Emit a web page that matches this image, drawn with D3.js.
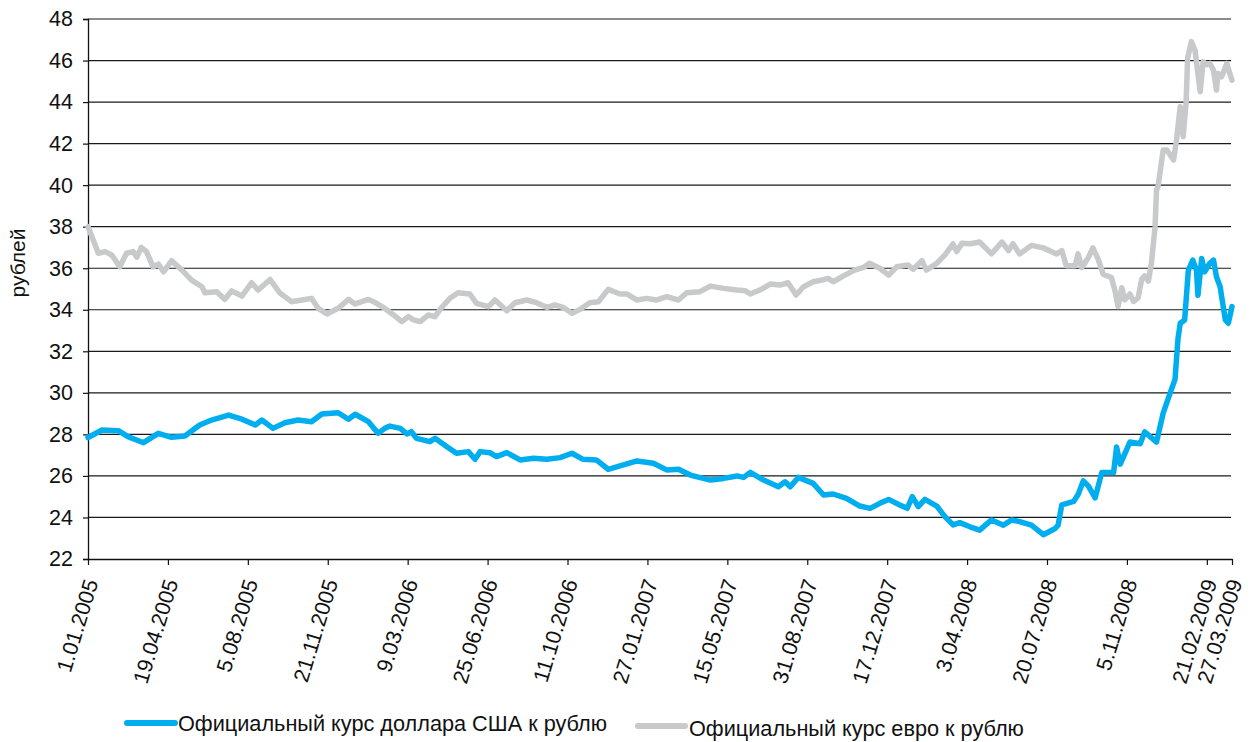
<!DOCTYPE html>
<html>
<head>
<meta charset="utf-8">
<script src="https://cdn.jsdelivr.net/npm/d3@7"></script>
<style>
  html, body { margin: 0; padding: 0; background: #fff; }
  svg { display: block; font-family: "Liberation Sans", Arial, Helvetica, sans-serif; }
</style>
</head>
<body>
<svg id="chart" width="1257" height="742"></svg>
<script>
// ---------- DATA ----------
const xTickLabels = ["1.01.2005","19.04.2005","5.08.2005","21.11.2005","9.03.2006","25.06.2006","11.10.2006","27.01.2007","15.05.2007","31.08.2007","17.12.2007","3.04.2008","20.07.2008","5.11.2008","21.02.2009","27.03.2009"];
const yTicks = [22,24,26,28,30,32,34,36,38,40,42,44,46,48];
const yTitle = "рублей";
const seriesNames = ["Официальный курс доллара США к рублю", "Официальный курс евро к рублю"];

const usdDates = ["2005-01-01","2005-01-20","2005-02-11","2005-02-24","2005-03-17","2005-04-06","2005-04-24","2005-05-12","2005-06-01","2005-06-17","2005-07-10","2005-07-28","2005-08-15","2005-08-24","2005-09-08","2005-09-24","2005-10-12","2005-10-30","2005-11-13","2005-12-05","2005-12-19","2005-12-28","2006-01-15","2006-01-28","2006-02-06","2006-02-13","2006-02-27","2006-03-08","2006-03-14","2006-03-21","2006-04-08","2006-04-15","2006-05-01","2006-05-14","2006-05-30","2006-06-08","2006-06-15","2006-06-28","2006-07-07","2006-07-21","2006-08-08","2006-08-26","2006-09-13","2006-10-01","2006-10-17","2006-11-01","2006-11-19","2006-12-05","2006-12-21","2007-01-13","2007-02-04","2007-02-22","2007-03-10","2007-03-26","2007-04-22","2007-05-10","2007-05-28","2007-06-06","2007-06-15","2007-07-03","2007-07-23","2007-08-01","2007-08-08","2007-08-19","2007-09-08","2007-09-22","2007-10-05","2007-10-23","2007-11-10","2007-11-24","2007-12-07","2007-12-19","2008-01-03","2008-01-13","2008-01-20","2008-01-28","2008-02-06","2008-02-22","2008-03-04","2008-03-15","2008-03-24","2008-04-07","2008-04-20","2008-05-06","2008-05-22","2008-06-02","2008-06-13","2008-06-29","2008-07-15","2008-07-31","2008-08-04","2008-08-09","2008-08-25","2008-08-31","2008-09-07","2008-09-14","2008-09-23","2008-10-02","2008-10-18","2008-10-22","2008-10-27","2008-11-09","2008-11-23","2008-11-29","2008-12-15","2008-12-24","2009-01-04","2009-01-09","2009-01-13","2009-01-16","2009-01-22","2009-01-27","2009-02-02","2009-02-07","2009-02-09","2009-02-14","2009-02-18","2009-02-25","2009-03-02","2009-03-06","2009-03-11","2009-03-13","2009-03-18","2009-03-22","2009-03-27"];
const usdValues = [27.85,28.21,28.18,27.89,27.60,28.05,27.86,27.92,28.45,28.69,28.93,28.73,28.45,28.69,28.29,28.56,28.69,28.61,28.98,29.04,28.73,28.97,28.61,28.05,28.29,28.40,28.29,28.02,28.13,27.81,27.65,27.81,27.41,27.09,27.17,26.80,27.17,27.12,26.93,27.12,26.77,26.85,26.80,26.88,27.09,26.80,26.77,26.32,26.48,26.72,26.61,26.29,26.32,26.04,25.80,25.88,26.00,25.93,26.17,25.80,25.48,25.72,25.48,25.93,25.64,25.08,25.13,24.92,24.55,24.44,24.68,24.87,24.60,24.44,25.00,24.52,24.87,24.55,24.04,23.64,23.75,23.55,23.39,23.88,23.63,23.88,23.80,23.63,23.17,23.47,23.63,24.61,24.77,25.10,25.76,25.51,24.94,26.16,26.16,27.39,26.57,27.63,27.55,28.12,27.63,29.02,30.16,30.65,32.60,33.35,33.51,35.90,36.39,35.90,34.70,36.47,35.83,36.24,36.39,35.59,35.11,34.63,33.51,33.35,34.15];

const eurDates = ["2005-01-01","2005-01-15","2005-01-24","2005-02-02","2005-02-13","2005-02-22","2005-03-03","2005-03-08","2005-03-14","2005-03-21","2005-03-30","2005-04-06","2005-04-13","2005-04-24","2005-05-08","2005-05-21","2005-06-04","2005-06-08","2005-06-24","2005-07-05","2005-07-14","2005-07-28","2005-08-10","2005-08-19","2005-09-04","2005-09-17","2005-10-03","2005-10-17","2005-10-30","2005-11-08","2005-11-20","2005-12-05","2005-12-19","2005-12-28","2006-01-15","2006-01-26","2006-02-04","2006-02-18","2006-03-01","2006-03-10","2006-03-17","2006-03-26","2006-04-06","2006-04-15","2006-04-24","2006-05-05","2006-05-16","2006-06-01","2006-06-10","2006-06-26","2006-07-05","2006-07-21","2006-08-01","2006-08-17","2006-08-30","2006-09-13","2006-09-24","2006-10-05","2006-10-17","2006-10-28","2006-11-10","2006-11-22","2006-12-05","2006-12-21","2006-12-30","2007-01-13","2007-01-26","2007-02-08","2007-02-22","2007-03-10","2007-03-21","2007-04-08","2007-04-22","2007-05-10","2007-05-28","2007-06-08","2007-06-15","2007-06-28","2007-07-12","2007-07-25","2007-08-05","2007-08-16","2007-08-26","2007-09-08","2007-09-20","2007-09-28","2007-10-05","2007-10-19","2007-11-03","2007-11-15","2007-11-23","2007-12-07","2007-12-19","2007-12-30","2008-01-14","2008-01-21","2008-02-02","2008-02-08","2008-02-22","2008-03-04","2008-03-15","2008-03-20","2008-03-27","2008-04-07","2008-04-20","2008-05-06","2008-05-20","2008-05-29","2008-06-04","2008-06-13","2008-06-29","2008-07-15","2008-08-02","2008-08-09","2008-08-15","2008-08-27","2008-08-31","2008-09-05","2008-09-14","2008-09-20","2008-09-27","2008-10-04","2008-10-15","2008-10-20","2008-10-24","2008-10-29","2008-11-02","2008-11-09","2008-11-14","2008-11-20","2008-11-25","2008-11-29","2008-12-04","2008-12-08","2008-12-13","2008-12-15","2008-12-17","2008-12-24","2008-12-29","2009-01-07","2009-01-11","2009-01-16","2009-01-20","2009-01-24","2009-01-26","2009-01-31","2009-02-05","2009-02-12","2009-02-16","2009-02-21","2009-02-25","2009-03-02","2009-03-06","2009-03-08","2009-03-13","2009-03-20","2009-03-24","2009-03-27"];
const eurValues = [38.00,36.72,36.80,36.64,36.07,36.72,36.80,36.53,37.01,36.80,36.07,36.20,35.83,36.36,35.91,35.43,35.11,34.82,34.87,34.50,34.91,34.66,35.30,34.95,35.46,34.82,34.39,34.47,34.55,34.07,33.80,34.07,34.50,34.28,34.50,34.31,34.12,33.75,33.43,33.67,33.51,33.43,33.75,33.67,34.12,34.55,34.82,34.76,34.31,34.15,34.47,33.95,34.34,34.47,34.34,34.12,34.23,34.12,33.83,34.02,34.34,34.39,34.98,34.76,34.76,34.47,34.55,34.47,34.63,34.47,34.82,34.87,35.14,35.03,34.95,34.92,34.76,34.95,35.24,35.19,35.30,34.71,35.11,35.35,35.43,35.51,35.35,35.63,35.91,36.04,36.24,36.00,35.67,36.07,36.16,35.95,36.36,35.91,36.24,36.64,37.17,36.80,37.20,37.18,37.26,36.69,37.26,36.85,37.18,36.69,37.10,36.98,36.69,36.85,36.12,36.12,36.69,36.03,36.52,36.98,36.44,35.71,35.55,34.89,34.16,35.06,34.48,34.76,34.40,34.57,35.47,35.63,35.38,36.20,38.00,39.77,39.93,41.69,41.69,41.21,42.17,43.78,42.33,44.00,46.10,46.91,46.50,44.50,45.94,45.80,45.86,45.54,44.58,45.38,45.22,45.86,45.38,45.06];

const seriesColors = ["#00aeef", "#c8c9cb"];

// ---------- CHART ----------
const svg = d3.select("#chart");
const parseISO = d3.timeParse("%Y-%m-%d");
const parseTick = d3.timeParse("%d.%m.%Y");

const plotLeft = 88, plotRight = 1232, plotTop = 19, plotBottom = 559;

const x = d3.scaleTime()
  .domain([parseTick("1.01.2005"), parseTick("27.03.2009")])
  .range([plotLeft, plotRight]);
const y = d3.scaleLinear().domain([22, 48]).range([plotBottom, plotTop]);

svg.append("rect").attr("width", 1257).attr("height", 742).attr("fill", "#fff");

// gridlines
svg.append("g").selectAll("line")
  .data(yTicks.filter(d => d > 22))
  .join("line")
  .attr("x1", plotLeft).attr("x2", plotRight - 1)
  .attr("y1", d => y(d)).attr("y2", d => y(d))
  .attr("stroke", "#1a1a1a").attr("stroke-width", 1.2);

// y axis
const yAxis = svg.append("g")
  .attr("transform", `translate(${plotLeft},0)`)
  .call(d3.axisLeft(y).tickValues(yTicks).tickSize(5).tickPadding(10).tickFormat(d3.format("d")));
yAxis.select(".domain").attr("stroke", "#111").attr("stroke-width", 1.3);
yAxis.selectAll(".tick line").attr("stroke", "#111").attr("stroke-width", 1.2);
yAxis.selectAll(".tick text").attr("font-size", 21.5).attr("fill", "#111")
  .attr("font-family", "'Liberation Sans', Arial, sans-serif");

// x axis
const xTickDates = xTickLabels.map(parseTick);
const xAxis = svg.append("g")
  .attr("transform", `translate(0,${plotBottom})`)
  .call(d3.axisBottom(x).tickValues(xTickDates).tickSize(6).tickSizeOuter(0).tickFormat((d, i) => xTickLabels[i]));
xAxis.select(".domain").attr("stroke", "#111").attr("stroke-width", 1.3);
xAxis.selectAll(".tick line").attr("stroke", "#111").attr("stroke-width", 1.2);
xAxis.selectAll(".tick text")
  .attr("font-size", 21.5).attr("fill", "#111")
  .attr("font-family", "'Liberation Sans', Arial, sans-serif")
  .attr("text-anchor", "end")
  .attr("x", 0).attr("y", 0).attr("dy", 0)
  .attr("transform", "translate(10,23) rotate(-73)");

// y title
svg.append("text")
  .attr("transform", `translate(25,263) rotate(-90)`)
  .attr("text-anchor", "middle")
  .attr("font-size", 21).attr("fill", "#111")
  .text(yTitle);

// lines
const line = d3.line().x(d => x(d[0])).y(d => y(d[1])).curve(d3.curveLinear);
const eurData = eurDates.map((d, i) => [parseISO(d), eurValues[i]]);
const usdData = usdDates.map((d, i) => [parseISO(d), usdValues[i]]);

svg.append("path").datum(eurData)
  .attr("d", line).attr("fill", "none")
  .attr("stroke", seriesColors[1]).attr("stroke-width", 5.5)
  .attr("stroke-linejoin", "round").attr("stroke-linecap", "round");
svg.append("path").datum(usdData)
  .attr("d", line).attr("fill", "none")
  .attr("stroke", seriesColors[0]).attr("stroke-width", 5.5)
  .attr("stroke-linejoin", "round").attr("stroke-linecap", "round");

// legend
const legendItems = [
  {name: seriesNames[0], color: seriesColors[0], x0: 127, x1: 175, ly: 723, tx: 178, ty: 731},
  {name: seriesNames[1], color: seriesColors[1], x0: 638, x1: 685, ly: 726, tx: 689, ty: 736}
];
const lg = svg.append("g");
legendItems.forEach(it => {
  lg.append("line").attr("x1", it.x0).attr("x2", it.x1).attr("y1", it.ly).attr("y2", it.ly)
    .attr("stroke", it.color).attr("stroke-width", 6).attr("stroke-linecap", "round");
  lg.append("text").attr("x", it.tx).attr("y", it.ty)
    .attr("font-size", 21.7).attr("fill", "#111").text(it.name);
});
</script>
</body>
</html>
